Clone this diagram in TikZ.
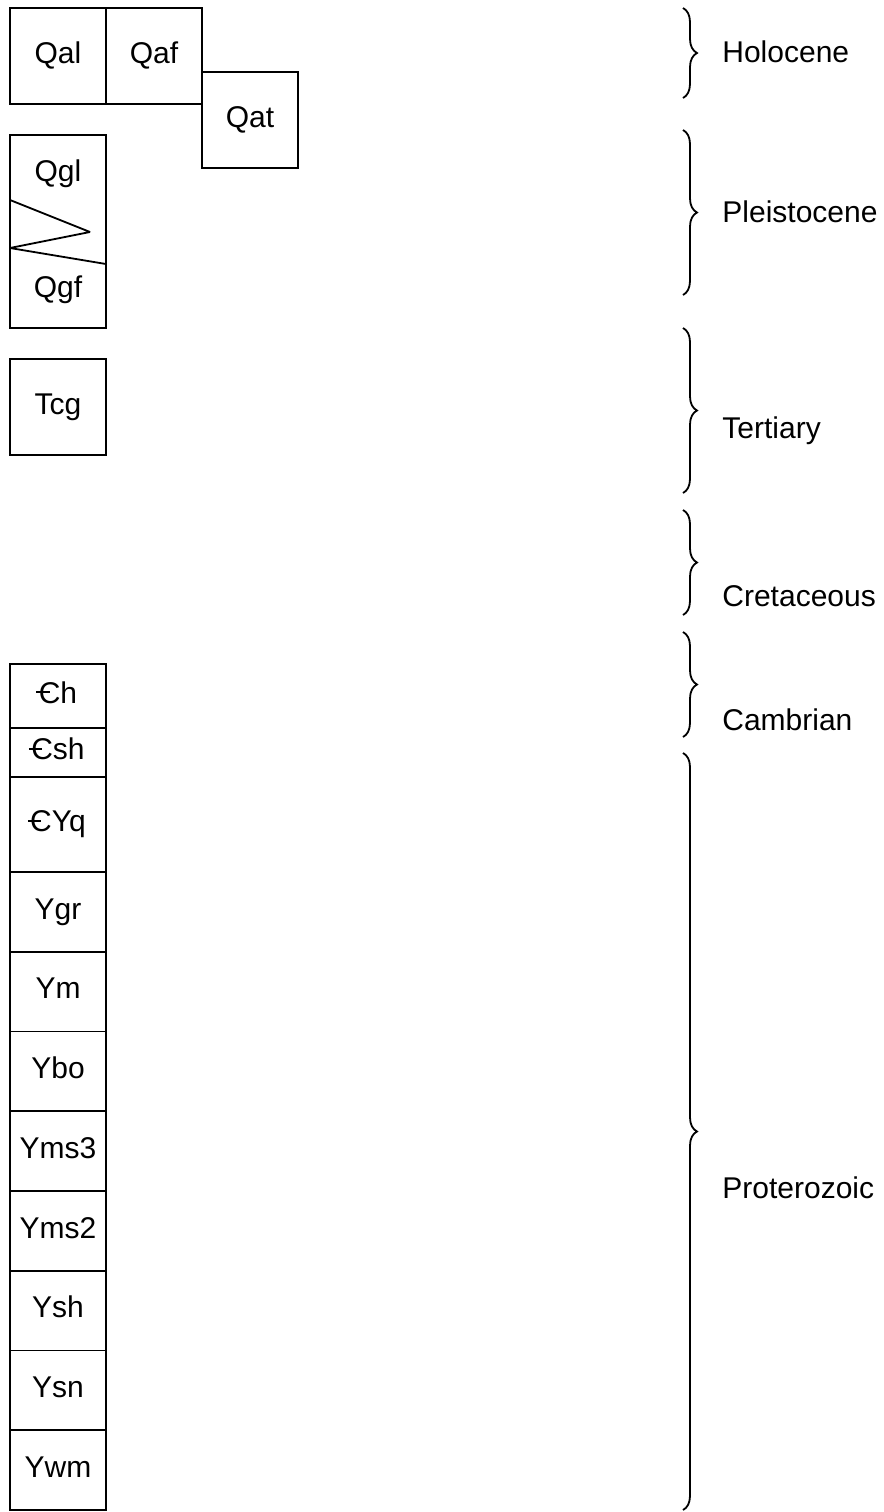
\documentclass[tikz,border=0pt]{standalone}
\usepackage{fontspec}
\setmainfont{Liberation Sans}
\usetikzlibrary{decorations.pathreplacing}
% Cambrian sign: C with a bar
\newcommand{\camb}{\makebox[0pt][l]{\kern-0.08em\rule[0.33em]{0.45em}{0.06em}}C}
\begin{document}
\begin{tikzpicture}[x=0.5pt,y=-0.5pt,font=\fontsize{15}{18}\selectfont,
  unit/.style={draw,line width=0.9pt,minimum width=48pt,inner sep=0pt,outer sep=0pt,text height=0.716em,text depth=0pt},
  era/.style={anchor=base west,inner sep=0pt},
  span/.style={decorate,decoration={brace,amplitude=7pt},line width=0.9pt}]
\useasboundingbox (0,0) rectangle (884,1512);
% Quaternary
\node[unit,minimum height=48pt] (Qal) at (58,56) {Qal};
\node[unit,minimum height=48pt] (Qaf) at (154,56) {Qaf};
\node[unit,minimum height=48pt] (Qat) at (250,120) {Qat};
\node[unit,minimum height=96.5pt] (glac) at (58,231.5) {};
\node[unit,draw=none] (Qgl) at (58,174) {Qgl};
\node[unit,draw=none] (Qgf) at (58,290) {Qgf};
\draw[line width=0.9pt,line join=bevel] (10,200) -- (90,232) -- (10,248) -- (106,264);
% Tertiary
\node[unit,minimum height=48pt] (Tcg) at (58,407) {Tcg};
% Cambrian and Proterozoic column
\node[unit,minimum height=32pt] (Ch) at (58,696) {\camb h};
\node[unit,minimum height=24.5pt] (Csh) at (58,752.5) {\camb sh};
\node[unit,minimum height=47.5pt] (CYq) at (58,824.5) {\camb Yq};
\foreach \name [count=\i from 0] in {Ygr,Ym,Ybo,Yms3,Yms2,Ysh,Ysn,Ywm}
  \node[unit,minimum height=39.875pt] (\name) at (58,{911.875+79.75*\i}) {\name};
% ages
\foreach \a/\b/\base/\age [count=\i] in {8/98/62/Holocene,130/295/222/Pleistocene,
    328/493/438/Tertiary,510/615/606/Cretaceous,632/737/730/Cambrian,753/1510/1198/Proterozoic}{
  \coordinate (age\i a) at (683,\a);
  \coordinate (age\i b) at (683,\b);
  \draw[span] (age\i a) -- (age\i b);
  \node[era] (age\i) at (722,\base) {\age};
}
\end{tikzpicture}
\end{document}
